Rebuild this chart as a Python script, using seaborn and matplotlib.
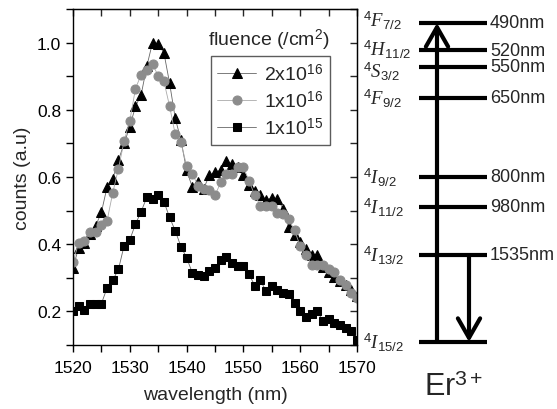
import numpy as np
import pandas as pd
import seaborn as sns
import matplotlib.pyplot as plt

# ---- spectrum data ----
wavelength = np.arange(1520, 1571)

counts_2e16 = [0.33, 0.39, 0.405, 0.43, 0.455, 0.495, 0.57, 0.595, 0.65, 0.70,
               0.75, 0.81, 0.845, 0.93, 1.00, 0.995, 0.97, 0.88, 0.775, 0.71,
               0.62, 0.57, 0.585, 0.565, 0.605, 0.615, 0.62, 0.648, 0.638, 0.63,
               0.605, 0.575, 0.558, 0.545, 0.533, 0.537, 0.535, 0.505, 0.45, 0.426,
               0.408, 0.387, 0.367, 0.369, 0.332, 0.318, 0.303, 0.29, 0.278, 0.263,
               0.245]

counts_1e16 = [0.347, 0.404, 0.411, 0.436, 0.436, 0.458, 0.47, 0.553, 0.625, 0.707,
               0.767, 0.863, 0.905, 0.917, 0.935, 0.902, 0.885, 0.811, 0.727, 0.703,
               0.634, 0.61, 0.574, 0.564, 0.562, 0.545, 0.584, 0.609, 0.609, 0.629,
               0.629, 0.589, 0.545, 0.515, 0.513, 0.513, 0.493, 0.49, 0.474, 0.441,
               0.395, 0.369, 0.339, 0.339, 0.337, 0.327, 0.316, 0.293, 0.28, 0.256,
               0.24]

counts_1e15 = [0.20, 0.215, 0.205, 0.222, 0.223, 0.223, 0.27, 0.293, 0.325, 0.396,
               0.413, 0.46, 0.497, 0.54, 0.535, 0.547, 0.527, 0.48, 0.44, 0.393,
               0.36, 0.315, 0.307, 0.305, 0.32, 0.33, 0.352, 0.362, 0.345, 0.335,
               0.335, 0.31, 0.277, 0.292, 0.26, 0.275, 0.263, 0.256, 0.251, 0.224,
               0.2, 0.183, 0.192, 0.2, 0.172, 0.176, 0.164, 0.16, 0.15, 0.142,
               0.115]

series_labels = ["2x10$^{16}$", "1x10$^{16}$", "1x10$^{15}$"]

# ---- Er3+ level scheme (schematic heights above ground) ----
level_names = [r"$^{\mathit{4}}\mathit{I}_{\mathit{15/2}}$",
               r"$^{\mathit{4}}\mathit{I}_{\mathit{13/2}}$",
               r"$^{\mathit{4}}\mathit{I}_{\mathit{11/2}}$",
               r"$^{\mathit{4}}\mathit{I}_{\mathit{9/2}}$",
               r"$^{\mathit{4}}\mathit{F}_{\mathit{9/2}}$",
               r"$^{\mathit{4}}\mathit{S}_{\mathit{3/2}}$",
               r"$^{\mathit{4}}\mathit{H}_{\mathit{11/2}}$",
               r"$^{\mathit{4}}\mathit{F}_{\mathit{7/2}}$"]
level_nm = ["", "1535nm", "980nm", "800nm", "650nm", "550nm", "520nm", "490nm"]
level_height = [0, 87, 135, 165, 244, 275, 292, 319]
# pequeño corrimiento vertical de las etiquetas para que no se pisen
label_shift = [0, 0, 0, 0, 0, -4, 1, 3]

# ======================
# ESTILO
# ======================
sns.set_style("ticks")
plt.rcParams["font.family"] = ["Liberation Sans", "DejaVu Sans"]
plt.rcParams["mathtext.fontset"] = "custom"
plt.rcParams["mathtext.rm"] = "Liberation Sans"
plt.rcParams["mathtext.it"] = "Liberation Serif:italic"
plt.rcParams["mathtext.bf"] = "Liberation Sans:bold"

fig = plt.figure(figsize=(5.57, 4.10), dpi=100)
ax = fig.add_axes([73 / 557, 64 / 410, 284 / 557, 336 / 410])

df = pd.DataFrame({"wavelength": wavelength,
                   "a": counts_2e16, "b": counts_1e16, "c": counts_1e15})

sns.lineplot(data=df, x="wavelength", y="a", ax=ax, color="#666666", lw=0.6,
             marker="^", markersize=7.5, markerfacecolor="black",
             markeredgecolor="black", label=series_labels[0])
sns.lineplot(data=df, x="wavelength", y="b", ax=ax, color="#aaaaaa", lw=0.6,
             marker="o", markersize=6.5, markerfacecolor="#8c8c8c",
             markeredgecolor="#8c8c8c", label=series_labels[1])
sns.lineplot(data=df, x="wavelength", y="c", ax=ax, color="#666666", lw=0.6,
             marker="s", markersize=6, markerfacecolor="black",
             markeredgecolor="black", label=series_labels[2])

ax.set_xlim(1520, 1570)
ax.set_ylim(0.1, 1.1)

xt = np.arange(1520, 1571, 5)
yt = np.round(np.arange(0.1, 1.11, 0.1), 1)
ax.set_xticks(xt)
ax.set_xticklabels([str(v) if v % 10 == 0 else "" for v in xt])
ax.set_yticks(yt)
ax.set_yticklabels([f"{v:.1f}" if round(v * 10) % 2 == 0 else "" for v in yt])
ax.tick_params(direction="out", length=5, width=1, labelsize=12.5, colors="black")
ax.tick_params(axis="x", pad=6)

top = ax.secondary_xaxis("top")
top.set_xticks(xt)
top.set_xticklabels([])
top.tick_params(direction="in", length=5, width=1)
right = ax.secondary_yaxis("right")
right.set_yticks(yt)
right.set_yticklabels([])
right.tick_params(direction="in", length=5, width=1)

for sp in ax.spines.values():
    sp.set_visible(True)
    sp.set_linewidth(1)
    sp.set_color("black")

ax.set_xlabel("wavelength (nm)", fontsize=14, labelpad=8)
ax.set_ylabel("counts (a.u)", fontsize=14)

leg = ax.legend(loc="upper right", bbox_to_anchor=(0.905, 0.86), borderaxespad=0,
                fontsize=14, handlelength=2.0, handletextpad=0.4,
                labelspacing=0.3, fancybox=False, frameon=True,
                borderpad=0.35)
leg.get_frame().set_edgecolor("#333333")
leg.get_frame().set_linewidth(1)
ax.text(0.69, 0.91, "fluence (/cm$^{2}$)", transform=ax.transAxes,
        ha="center", va="center", fontsize=14)

# ======================
# DIAGRAMA DE NIVELES
# ======================
ax2 = fig.add_axes([357 / 557, 0, 200 / 557, 1])
ax2.set_xlim(0, 200)
ax2.set_ylim(-67, 343)
ax2.axis("off")

ax2.hlines(level_height, 62, 130, color="black", lw=3)
for h, name, nm, dy in zip(level_height, level_names, level_nm, label_shift):
    ax2.text(6, h + dy, name, ha="left", va="center", fontsize=13.5)
    if nm:
        ax2.text(133, h, nm, ha="left", va="center", fontsize=13)

ax2.annotate("", xy=(80, level_height[-1]), xytext=(80, level_height[0]),
             arrowprops=dict(arrowstyle="->,head_length=0.7,head_width=0.4",
                             lw=3, color="black", mutation_scale=20,
                             shrinkA=0, shrinkB=0))
ax2.annotate("", xy=(112, level_height[0]), xytext=(112, level_height[1]),
             arrowprops=dict(arrowstyle="->,head_length=0.7,head_width=0.4",
                             lw=3, color="black", mutation_scale=20,
                             shrinkA=0, shrinkB=0))
ax2.text(97, -45, "Er$^{3+}$", ha="center", va="center", fontsize=22)

fig.savefig("out.png", dpi=100)
